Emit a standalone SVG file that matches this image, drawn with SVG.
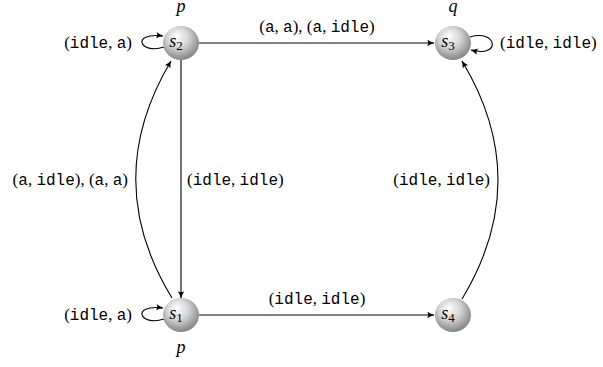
<svg xmlns="http://www.w3.org/2000/svg" width="603" height="367" viewBox="0 0 603 367">
<style>
.edge{fill:none;stroke:#000;stroke-width:1.1}
.lbl{font-family:"Liberation Serif",serif;font-size:17px;fill:#000}
.tt{font-family:"Liberation Mono",monospace;font-size:16px}
.it{font-family:"Liberation Serif",serif;font-style:italic;font-size:18px;fill:#000}
.sub{font-family:"Liberation Serif",serif;font-size:13px}
.ball{fill:url(#ballg)}
</style>
<defs>
<radialGradient id="ballg" cx="0.45" cy="0.4" r="0.65" fx="0.38" fy="0.28">
<stop offset="0" stop-color="#ffffff"/>
<stop offset="0.45" stop-color="#d6d6d6"/>
<stop offset="1" stop-color="#7a7a7a"/>
</radialGradient>
<marker id="arr" viewBox="0 0 10 10" refX="9" refY="5" markerWidth="8" markerHeight="8" markerUnits="userSpaceOnUse" orient="auto">
<path d="M0.5,1 Q5,3.8 9.5,5 Q5,6.2 0.5,9 Q3,5 0.5,1 Z" fill="#000"/>
</marker>
</defs>
<g id="connectors">
<path class="edge" d="M199,43 L434,43" marker-end="url(#arr)"/>
<path class="edge" d="M181,60 L181,298" marker-end="url(#arr)"/>
<path class="edge" d="M172,298 Q100,180 171,61" marker-end="url(#arr)"/>
<path class="edge" d="M199,315 L434,315" marker-end="url(#arr)"/>
<path class="edge" d="M462,299 Q534,180 462,61" marker-end="url(#arr)"/>
<path class="edge" d="M164,47 C140,55 130,32 163,36" marker-end="url(#arr)"/>
<path class="edge" d="M164,319 C140,327 130,304 163,308" marker-end="url(#arr)"/>
<path class="edge" d="M470,37 C497,29 502,58 471,50" marker-end="url(#arr)"/>
</g>
<g id="labels">
<text class="lbl" x="132" y="48" text-anchor="end">(<tspan class="tt">idle</tspan>, <tspan class="tt">a</tspan>)</text>
<text class="lbl" x="132" y="320" text-anchor="end">(<tspan class="tt">idle</tspan>, <tspan class="tt">a</tspan>)</text>
<text class="lbl" x="500" y="48">(<tspan class="tt">idle</tspan>, <tspan class="tt">idle</tspan>)</text>
<text class="lbl" x="317" y="32" text-anchor="middle">(<tspan class="tt">a</tspan>, <tspan class="tt">a</tspan>), (<tspan class="tt">a</tspan>, <tspan class="tt">idle</tspan>)</text>
<text class="lbl" x="317" y="304" text-anchor="middle">(<tspan class="tt">idle</tspan>, <tspan class="tt">idle</tspan>)</text>
<text class="lbl" x="187" y="185">(<tspan class="tt">idle</tspan>, <tspan class="tt">idle</tspan>)</text>
<text class="lbl" x="128" y="185" text-anchor="end">(<tspan class="tt">a</tspan>, <tspan class="tt">idle</tspan>), (<tspan class="tt">a</tspan>, <tspan class="tt">a</tspan>)</text>
<text class="lbl" x="490" y="185" text-anchor="end">(<tspan class="tt">idle</tspan>, <tspan class="tt">idle</tspan>)</text>
<text class="it" x="181" y="12" text-anchor="middle">p</text>
<text class="it" x="453" y="12" text-anchor="middle">q</text>
<text class="it" x="181" y="353" text-anchor="middle">p</text>
</g>
<g id="s2"><ellipse class="ball" cx="181" cy="43" rx="18" ry="17"/><text class="it" x="176" y="47" text-anchor="middle">s<tspan class="sub" font-style="normal" dy="3">2</tspan></text></g>
<g id="s3"><ellipse class="ball" cx="453" cy="43" rx="18" ry="17"/><text class="it" x="448" y="47" text-anchor="middle">s<tspan class="sub" font-style="normal" dy="3">3</tspan></text></g>
<g id="s1"><ellipse class="ball" cx="181" cy="315" rx="18" ry="17"/><text class="it" x="176" y="319" text-anchor="middle">s<tspan class="sub" font-style="normal" dy="3">1</tspan></text></g>
<g id="s4"><ellipse class="ball" cx="453" cy="315" rx="18" ry="17"/><text class="it" x="448" y="319" text-anchor="middle">s<tspan class="sub" font-style="normal" dy="3">4</tspan></text></g>
</svg>
